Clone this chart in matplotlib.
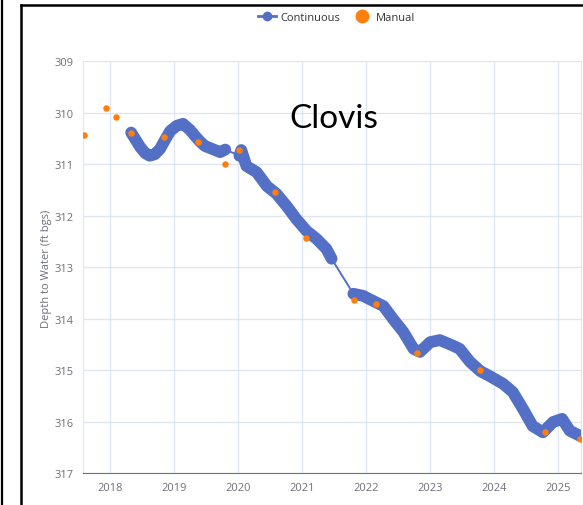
import matplotlib
matplotlib.use("Agg")
import matplotlib.pyplot as plt
from matplotlib.lines import Line2D

plt.rcParams['font.family'] = ['Open Sans', 'DejaVu Sans']

# Continuous logger record (decimal year, depth to water in ft bgs), three deployments
seg1_years = [2018.33, 2018.39, 2018.47, 2018.55, 2018.62, 2018.70, 2018.78, 2018.86,
              2018.94, 2019.04, 2019.14, 2019.25, 2019.33, 2019.41, 2019.48, 2019.56,
              2019.64, 2019.72, 2019.80]
seg1_depth = [310.38, 310.50, 310.66, 310.78, 310.83, 310.80, 310.70, 310.52,
              310.35, 310.25, 310.21, 310.33, 310.45, 310.56, 310.64, 310.68,
              310.72, 310.76, 310.71]

seg2_years = [2020.02, 2020.05, 2020.13, 2020.29, 2020.45, 2020.60, 2020.76, 2020.91,
              2021.07, 2021.23, 2021.38, 2021.46]
seg2_depth = [310.83, 310.72, 311.03, 311.15, 311.42, 311.57, 311.81, 312.06,
              312.29, 312.45, 312.64, 312.83]

seg3_years = [2021.80, 2021.95, 2022.11, 2022.27, 2022.42, 2022.58, 2022.74, 2022.84,
              2023.00, 2023.15, 2023.36, 2023.46, 2023.62, 2023.78, 2023.93, 2024.14,
              2024.29, 2024.45, 2024.60, 2024.76, 2024.92, 2025.06, 2025.18, 2025.34]
seg3_depth = [313.51, 313.55, 313.65, 313.75, 314.00, 314.25, 314.58, 314.64,
              314.45, 314.41, 314.52, 314.58, 314.83, 315.01, 315.11, 315.26,
              315.42, 315.75, 316.08, 316.20, 316.00, 315.94, 316.17, 316.27]

# Manual measurements
manual_years = [2017.59, 2017.94, 2018.09, 2018.33, 2018.85, 2019.37, 2019.80, 2020.02,
                2020.57, 2021.06, 2021.81, 2022.15, 2022.79, 2023.78, 2024.80, 2025.34]
manual_depth = [310.43, 309.91, 310.07, 310.38, 310.47, 310.56, 311.00, 310.71,
                311.54, 312.42, 313.63, 313.70, 314.66, 315.00, 316.20, 316.33]

year_ticks = [2018, 2019, 2020, 2021, 2022, 2023, 2024, 2025]
depth_ticks = [309, 310, 311, 312, 313, 314, 315, 316, 317]

BLUE = '#5470c6'
ORANGE = '#ff7f0e'
GRID = '#e0e6f1'
TXT = '#6e7079'

fig = plt.figure(figsize=(5.83, 5.06), dpi=100)
ax = fig.add_axes([0.1429, 0.0623, 0.8537, 0.8142])

# thin connector through the whole record
all_years = seg1_years + seg2_years + seg3_years
all_depth = seg1_depth + seg2_depth + seg3_depth
ax.plot(all_years, all_depth, color=BLUE, lw=1.4, zorder=3)
for yrs, dep in [(seg1_years, seg1_depth), (seg2_years, seg2_depth), (seg3_years, seg3_depth)]:
    ax.plot(yrs, dep, color=BLUE, lw=8.5, solid_capstyle='round',
            solid_joinstyle='round', zorder=3)

ax.scatter(manual_years, manual_depth, s=22, color=ORANGE, zorder=4, linewidths=0)

ax.set_xlim(2017.583, 2025.355)
ax.set_ylim(317, 309)
ax.set_xticks(year_ticks)
ax.set_xticklabels([str(y) for y in year_ticks])
ax.set_yticks(depth_ticks)
ax.grid(True, color=GRID, lw=1)
ax.set_axisbelow(True)
ax.tick_params(axis='both', length=0, labelsize=8, labelcolor=TXT, pad=6)
ax.tick_params(axis='y', pad=7)
for side in ['top', 'right', 'left']:
    ax.spines[side].set_color(GRID)
ax.spines['top'].set_visible(False)
ax.spines['bottom'].set_color(TXT)
ax.set_ylabel('Depth to Water (ft bgs)', fontsize=8, color=TXT, labelpad=2)

ax.text(0.573, 0.795, 'Clovis', transform=fig.transFigure, ha='center', va='top',
        fontsize=24, family=['Lato', 'DejaVu Sans'], color='black')

handles = [Line2D([0], [0], color=BLUE, lw=2, marker='o', markersize=6),
           Line2D([0], [0], color=ORANGE, lw=0, marker='o', markersize=9)]
fig.legend(handles, ['Continuous', 'Manual'], loc='center', bbox_to_anchor=(0.577, 0.964),
           ncol=2, frameon=False, fontsize=8, handlelength=1.6, handletextpad=0.4,
           columnspacing=1.2, labelcolor='#333333')

# slide frame around the chart
fig.add_artist(Line2D([0.0035, 0.0035], [0, 1], transform=fig.transFigure, color='black', lw=1.6))
fig.add_artist(Line2D([0.036, 0.036], [0, 0.988], transform=fig.transFigure, color='black', lw=1.8))
fig.add_artist(Line2D([0.036, 1.0], [0.988, 0.988], transform=fig.transFigure, color='black', lw=1.8))

fig.savefig('out.png', dpi=100)
